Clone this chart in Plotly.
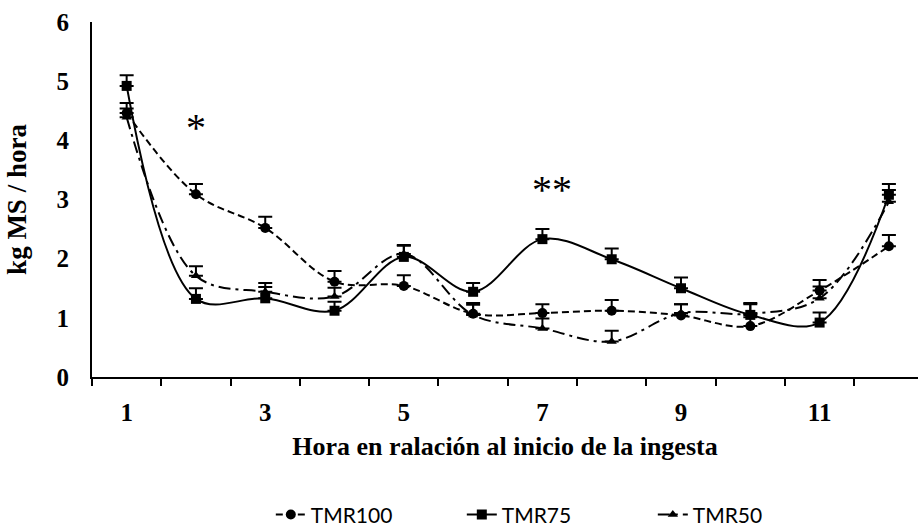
import plotly.graph_objects as go

hours = list(range(1, 13))
tmr100 = [4.46, 3.09, 2.52, 1.61, 1.54, 1.07, 1.08, 1.12, 1.04, 0.86, 1.46, 2.21]
tmr100_err = [0.17, 0.17, 0.19, 0.18, 0.18, 0.15, 0.15, 0.18, 0.19, 0.15, 0.18, 0.19]
tmr75 = [4.92, 1.32, 1.33, 1.12, 2.03, 1.44, 2.33, 1.99, 1.50, 1.05, 0.92, 3.08]
tmr75_err = [0.18, 0.18, 0.19, 0.15, 0.19, 0.15, 0.17, 0.18, 0.18, 0.18, 0.17, 0.18]
tmr50 = [4.39, 1.71, 1.44, 1.36, 2.08, 1.05, 0.82, 0.60, 1.08, 1.07, 1.33, 2.96]
tmr50_err = [0.15, 0.16, 0.15, 0.15, 0.15, 0.20, 0.17, 0.18, 0.15, 0.18, 0.20, 0.20]

x_labels = [1, 3, 5, 7, 9, 11]
x_bounds = [h - 0.5 for h in hours]
y_ticks = [0, 1, 2, 3, 4, 5, 6]

series = [
    ("TMR100", tmr100, tmr100_err, "circle", 10, "7px,4px"),
    ("TMR75", tmr75, tmr75_err, "square", 10, "solid"),
    ("TMR50", tmr50, tmr50_err, "triangle-up", 9, "12px,5px,3px,5px"),
]

fig = go.Figure()
for name, vals, err, sym, msize, dash in series:
    fig.add_trace(go.Scatter(
        x=hours, y=vals, name=name, mode="lines+markers",
        line=dict(color="black", width=2, dash=dash, shape="spline", smoothing=1.0),
        marker=dict(symbol=sym, size=msize, color="black"),
        error_y=dict(type="data", array=err, arrayminus=[0] * len(err), symmetric=False,
                     color="black", thickness=2, width=7),
    ))

fig.add_annotation(x=2, y=4.22, text="*", showarrow=False,
                   font=dict(family="Liberation Serif", size=40, color="black"))
fig.add_annotation(x=7, y=3.17, text="**", showarrow=False, xshift=10,
                   font=dict(family="Liberation Serif", size=40, color="black"))

fig.update_layout(
    width=918, height=528,
    margin=dict(l=92, r=0, t=22, b=151),
    paper_bgcolor="white", plot_bgcolor="white",
    font=dict(family="Liberation Serif", color="black"),
    showlegend=True,
    legend=dict(orientation="h", xref="container", x=0.295, xanchor="left",
                yref="container", y=0.025, yanchor="middle",
                font=dict(family="Lato", size=21, color="black"),
                entrywidth=146, entrywidthmode="pixels"),
    xaxis=dict(
        range=[0.5, 12.42], showgrid=False, zeroline=False,
        showline=True, linecolor="black", linewidth=2,
        tickmode="array", tickvals=x_labels, ticktext=[str(v) for v in x_labels],
        ticks="", tickfont=dict(family="Liberation Serif", size=25, color="black", weight="bold"),
        ticklabelstandoff=12,
        minor=dict(tickmode="array", tickvals=x_bounds, ticks="outside", ticklen=7,
                   tickwidth=2, tickcolor="black", showgrid=False),
        title=dict(text="<b>Hora en ralación al inicio de la ingesta</b>",
                   font=dict(family="Liberation Serif", size=26, color="black"), standoff=12),
    ),
    yaxis=dict(
        range=[0, 6], showgrid=False, zeroline=False,
        showline=True, linecolor="black", linewidth=2,
        tickmode="array", tickvals=y_ticks, ticks="",
        tickfont=dict(family="Liberation Serif", size=25, color="black", weight="bold"),
        ticklabelstandoff=16,
        title=dict(text="<b>kg MS / hora</b>",
                   font=dict(family="Liberation Serif", size=27, color="black"), standoff=22),
    ),
)

fig.write_html("out.html")
